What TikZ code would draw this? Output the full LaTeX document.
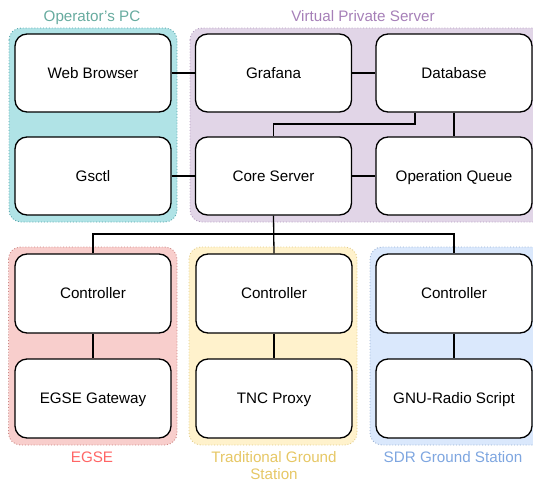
\documentclass[tikz,border=0pt]{standalone}
\usepackage{fontspec}
\setmainfont{Liberation Sans}
\begin{document}
\begin{tikzpicture}[x=1pt,y=-1pt,
  box/.style={draw=black, fill=white, line width=1.3pt, rounded corners=12pt,
    minimum width=156pt, minimum height=78pt, inner sep=0pt,
    text height=10.9pt, text depth=0pt,
    font=\fontsize{15.2}{17}\selectfont},
  grp/.style={line width=0.9pt, dotted, rounded corners=12pt},
  ttl/.style={font=\fontsize{15.2}{18}\selectfont, align=center, inner sep=0pt, anchor=base},
  link/.style={line width=1.3pt, black}]
\definecolor{tealF}{HTML}{B0E3E6}\definecolor{tealS}{HTML}{0E8088}\definecolor{tealT}{HTML}{67AB9F}
\definecolor{purF}{HTML}{E1D5E7}\definecolor{purS}{HTML}{9673A6}\definecolor{purT}{HTML}{A680B8}
\definecolor{redF}{HTML}{F8CECC}\definecolor{redS}{HTML}{B85450}\definecolor{redT}{HTML}{FF6666}
\definecolor{yelF}{HTML}{FFF2CC}\definecolor{yelS}{HTML}{D6B656}\definecolor{yelT}{HTML}{E6C765}
\definecolor{bluF}{HTML}{DAE8FC}\definecolor{bluS}{HTML}{6C8EBF}\definecolor{bluT}{HTML}{7EA6E0}
\useasboundingbox (0,0) rectangle (533,482);
% groups
\draw[grp, fill=tealF, draw=tealS!70] (9,28) rectangle (177,222);
\draw[grp, fill=purF, draw=purS!70] (190,28) rectangle (545,222);
\draw[grp, fill=redF, draw=redS!70] (8.5,247) rectangle (177,445);
\draw[grp, fill=yelF, draw=yelS!70] (189,247) rectangle (357,445);
\draw[grp, fill=bluF, draw=bluS!70] (370,247) rectangle (545,445);
% titles
\node[ttl, text=tealT] (tpc) at (92,21) {Operator\char39 s PC};
\node[ttl, text=purT] (tvps) at (363,21) {Virtual Private Server};
\node[ttl, text=redT] (tegse) at (92,462.5) {EGSE};
\node[ttl, text=yelT] (ttgs) at (274,462.5) {Traditional Ground};
\node[ttl, text=yelT] (ttgs2) at (274,479.5) {Station};
\node[ttl, text=bluT] (tsdr) at (453,462.5) {SDR Ground Station};
% boxes
\node[box] (wb) at (93,73) {Web Browser};
\node[box] (gs) at (93,176) {Gsctl};
\node[box] (gr) at (273.5,73) {Grafana};
\node[box] (cs) at (273.5,176) {Core Server};
\node[box] (db) at (454,73) {Database};
\node[box] (oq) at (454,176) {Operation Queue};
\node[box, minimum height=79pt] (c1) at (93,293.5) {Controller};
\node[box, minimum height=79pt] (c2) at (274,293.5) {Controller};
\node[box, minimum height=79pt] (c3) at (454,293.5) {Controller};
\node[box, minimum height=79pt] (eg) at (93,398.5) {EGSE Gateway};
\node[box, minimum height=79pt] (tnc) at (274,398.5) {TNC Proxy};
\node[box, minimum height=79pt] (gnu) at (454,398.5) {GNU-Radio Script};
% links
\draw[link] (wb.east) -- (gr.west);
\draw[link] (gr.east) -- (db.west);
\draw[link] (gs.east) -- (cs.west);
\draw[link] (cs.east) -- (oq.west);
\draw[link] (db.south) -- (oq.north);
\draw[link] (db.south -| 415,0) -- (415,124) -| (cs.north);
\draw[link] (cs.south) -- (c2.north);
\draw[link] (c1.north) |- (273.5,234) -| (c3.north);
\draw[link] (c1.south) -- (eg.north);
\draw[link] (c2.south) -- (tnc.north);
\draw[link] (c3.south) -- (gnu.north);
\end{tikzpicture}
\end{document}
